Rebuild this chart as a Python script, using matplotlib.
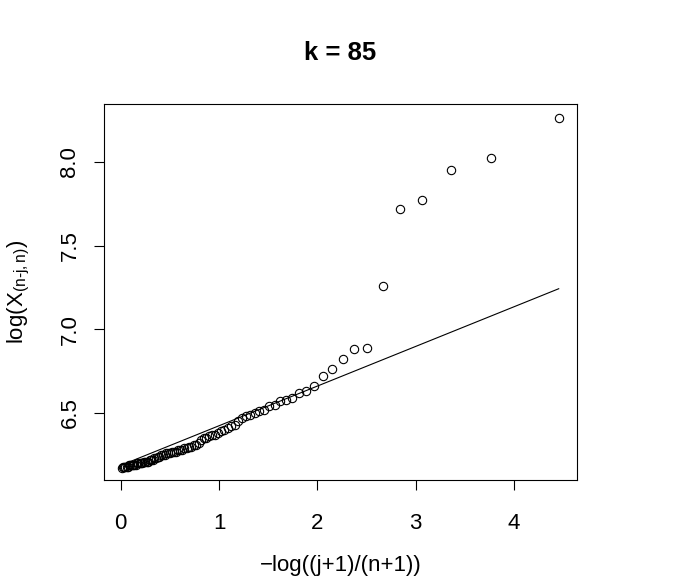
import matplotlib
matplotlib.use("Agg")
import matplotlib.pyplot as plt

plt.rcParams['font.family'] = ['Liberation Sans', 'DejaVu Sans']
plt.rcParams['mathtext.fontset'] = 'custom'
plt.rcParams['mathtext.rm'] = 'Liberation Sans'
plt.rcParams['mathtext.it'] = 'Liberation Sans'

k = 85

# -log((j+1)/(n+1)) for the k upper order statistics
quantiles = [
    4.454, 3.761, 3.356, 3.068, 2.845, 2.663, 2.509, 2.375, 2.257, 2.152,
    2.056, 1.969, 1.889, 1.815, 1.746, 1.682, 1.621, 1.564, 1.510, 1.459,
    1.410, 1.363, 1.319, 1.276, 1.235, 1.196, 1.159, 1.122, 1.087, 1.053,
    1.020, 0.989, 0.958, 0.928, 0.899, 0.871, 0.843, 0.817, 0.791, 0.765,
    0.741, 0.717, 0.693, 0.670, 0.648, 0.626, 0.604, 0.583, 0.563, 0.542,
    0.522, 0.503, 0.484, 0.465, 0.447, 0.429, 0.411, 0.394, 0.377, 0.360,
    0.343, 0.327, 0.311, 0.296, 0.280, 0.265, 0.250, 0.235, 0.220, 0.206,
    0.192, 0.178, 0.164, 0.151, 0.137, 0.124, 0.111, 0.098, 0.085, 0.072,
    0.060, 0.048, 0.036, 0.024, 0.012,
]

# log of the order statistics X_(n-j,n)
log_x = [
    8.26, 8.02, 7.95, 7.77, 7.72, 7.26, 6.89, 6.88, 6.82, 6.76,
    6.72, 6.66, 6.63, 6.62, 6.59, 6.58, 6.57, 6.55, 6.54, 6.52,
    6.51, 6.50, 6.49, 6.48, 6.47, 6.45, 6.43, 6.42, 6.41, 6.40,
    6.39, 6.38, 6.37, 6.37, 6.36, 6.35, 6.35, 6.34, 6.32, 6.31,
    6.31, 6.30, 6.30, 6.29, 6.29, 6.28, 6.28, 6.28, 6.27, 6.27,
    6.27, 6.26, 6.26, 6.26, 6.25, 6.25, 6.25, 6.24, 6.24, 6.23,
    6.23, 6.22, 6.22, 6.22, 6.21, 6.21, 6.21, 6.21, 6.20, 6.20,
    6.20, 6.20, 6.20, 6.19, 6.19, 6.19, 6.19, 6.19, 6.19, 6.18,
    6.18, 6.18, 6.18, 6.18, 6.17,
]

# fitted line endpoints
line_x = [0.012, 4.454]
line_y = [6.19, 7.242]

fig = plt.figure(figsize=(6.81, 5.86), dpi=100)
ax = fig.add_axes([104 / 681, 1 - 480 / 586, 473 / 681, 376 / 586])

ax.plot(quantiles, log_x, linestyle='none', marker='o', markersize=6.0,
        markerfacecolor='none', markeredgecolor='black', markeredgewidth=0.8)
ax.plot(line_x, line_y, color='black', linewidth=0.8)

ax.set_xlim(-0.17, 4.64)
ax.set_ylim(6.10, 8.345)
ax.set_xticks([0, 1, 2, 3, 4])
ax.set_yticks([6.5, 7.0, 7.5, 8.0])
ax.set_yticklabels(['6.5', '7.0', '7.5', '8.0'], rotation=90, va='center')
ax.tick_params(direction='out', length=7, width=0.8, labelsize=16)
ax.tick_params(axis='x', pad=17)
ax.tick_params(axis='y', pad=10)

for s in ax.spines.values():
    s.set_linewidth(0.8)

fig.text(340.5 / 681, 1 - 53 / 586, f'k = {k}', fontsize=18.5,
         fontweight='bold', ha='center', va='center')
ax.set_xlabel('\u2212log((j+1)/(n+1))', fontsize=16)
ax.set_ylabel(r'$\mathrm{log(X}_{\mathrm{(n\text{-}j,n)}}\mathrm{)}$', fontsize=16)
ax.xaxis.set_label_coords(0.5, (480 - 566) / 376)
ax.xaxis.label.set_va('center')
ax.yaxis.set_label_coords((19 - 104) / 473, 0.5)
ax.yaxis.label.set_va('center')

plt.savefig('out.png', dpi=100)
